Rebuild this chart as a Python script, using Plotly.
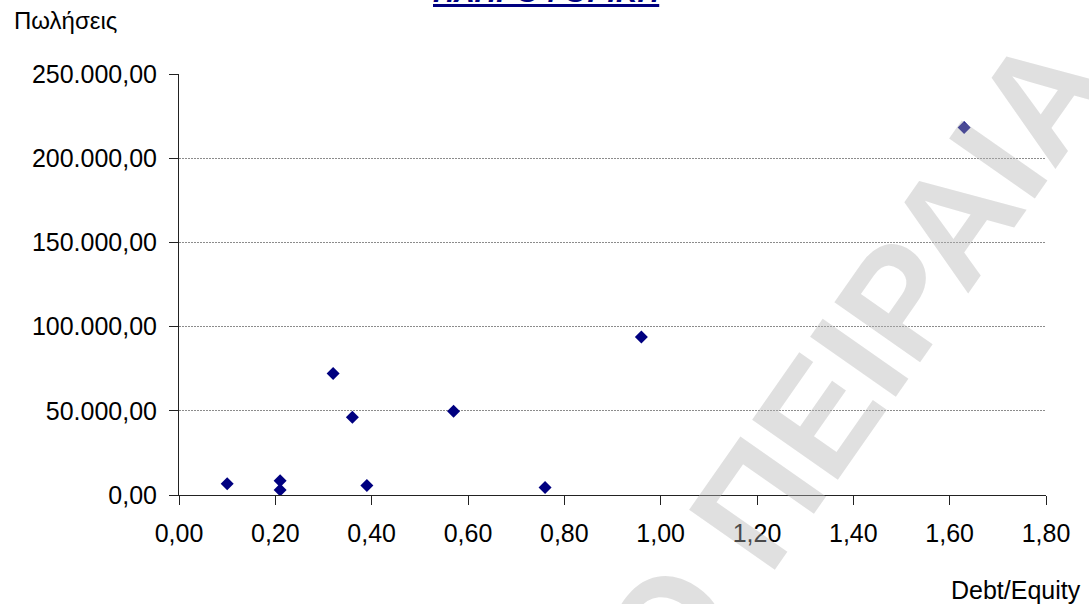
import plotly.graph_objects as go

# Debt/Equity ratio vs. sales (Πωλήσεις) for the IT sector companies
debt_equity = [0.10, 0.21, 0.21, 0.32, 0.36, 0.39, 0.57, 0.76, 0.96, 1.63]
sales = [6700, 8400, 3000, 72200, 46100, 5700, 49700, 4400, 93800, 218300]

x_ticks = [0.0, 0.2, 0.4, 0.6, 0.8, 1.0, 1.2, 1.4, 1.6, 1.8]
y_ticks = [0, 50000, 100000, 150000, 200000, 250000]

title_text = "ΠΛΗΡΟΦΟΡΙΚΗ"
y_label = "Πωλήσεις"
x_label = "Debt/Equity"
watermark = "ΠΑΝΕΠΙΣΤΗΜΙΟ ΠΕΙΡΑΙΑ"

W, H = 1089, 604
L, R, T, B = 179, 43, 74, 109
PW, PH = W - L - R, H - T - B


def px(x, y):
    """Convert canvas pixels to paper coordinates."""
    return (x - L) / PW, (H - B - y) / PH


FONT = "Arial, Liberation Sans, sans-serif"

fig = go.Figure(
    go.Scatter(
        x=debt_equity,
        y=sales,
        mode="markers",
        marker=dict(symbol="diamond", size=10, color="#000080", line=dict(width=0)),
        hoverinfo="x+y",
    )
)

axis_common = dict(
    showline=True,
    linecolor="#222222",
    linewidth=1,
    ticks="outside",
    ticklen=9,
    tickwidth=1,
    tickcolor="#222222",
    tickfont=dict(family=FONT, size=25, color="#000000"),
    zeroline=False,
    fixedrange=True,
)

fig.update_xaxes(
    range=[0, 1.8],
    tickvals=x_ticks,
    tickformat=".2f",
    showgrid=False,
    ticklabelstandoff=7,
    **axis_common,
)
fig.update_yaxes(
    range=[0, 250000],
    tickvals=y_ticks,
    tickformat=",.2f",
    showgrid=True,
    gridcolor="#8c8c8c",
    gridwidth=1,
    griddash="2px,1px",
    ticklabelstandoff=7,
    **axis_common,
)

annotations = []

tx, ty = px(547, 0)
annotations.append(dict(
    text=f"<b><i><u>{title_text}</u></i></b>",
    xref="paper", yref="paper", x=tx, y=ty,
    xanchor="center", yanchor="middle", yshift=9,
    showarrow=False,
    font=dict(family=FONT, size=30, color="#000080"),
))

lx, ly = px(12, 20)
annotations.append(dict(
    text=y_label, xref="paper", yref="paper", x=lx, y=ly,
    xanchor="left", yanchor="middle", showarrow=False,
    font=dict(family=FONT, size=24, color="#000000"),
))

dx, dy = px(1083, 590)
annotations.append(dict(
    text=x_label, xref="paper", yref="paper", x=dx, y=dy,
    xanchor="right", yanchor="middle", showarrow=False,
    font=dict(family=FONT, size=25, color="#000000"),
))

# diagonal watermark, drawn above the markers
wx, wy = px(553, 794)
annotations.append(dict(
    text=f"<b>{watermark}</b>", xref="paper", yref="paper", x=wx, y=wy,
    xanchor="center", yanchor="middle", textangle=-55, showarrow=False,
    font=dict(family=FONT, size=152, color="rgba(180,180,180,0.41)"),
))

fig.update_layout(
    width=W,
    height=H,
    margin=dict(l=L, r=R, t=T, b=B, pad=0),
    paper_bgcolor="#ffffff",
    plot_bgcolor="#ffffff",
    separators=",.",
    showlegend=False,
    annotations=annotations,
    font=dict(family=FONT),
)

fig.write_html("out.html", config={"displayModeBar": False})
